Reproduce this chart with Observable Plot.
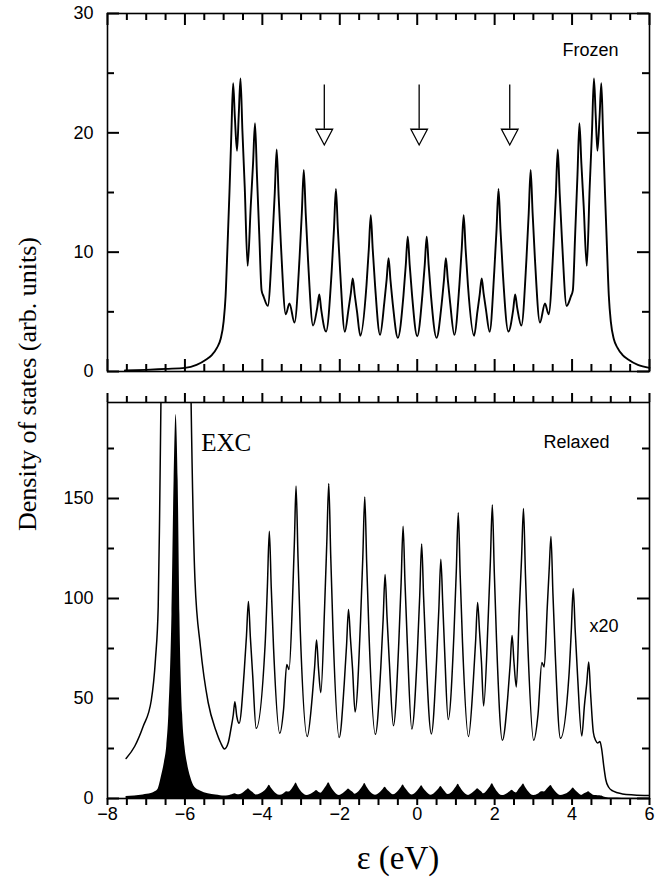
<!DOCTYPE html>
<html>
<head>
<meta charset="utf-8">
<script src="https://cdn.jsdelivr.net/npm/d3@7"></script>
<script src="https://cdn.jsdelivr.net/npm/@observablehq/plot@0.6"></script>
<style>
html, body { margin: 0; padding: 0; background: #fff; }
#wrap { position: relative; width: 672px; height: 884px; overflow: hidden; background: #fff; }
#top, #bottom { position: absolute; left: 0; }
#top { top: 0; }
#bottom { top: 390px; }
.ylab { position: absolute; left: 28px; top: 384px; transform: translate(-50%, -50%) rotate(-90deg);
  white-space: nowrap; font-family: "Liberation Serif"; font-size: 26px; line-height: 1; color: #000; }
.xlab { position: absolute; left: 398px; top: 842px; transform: translateX(-50%);
  white-space: nowrap; font-family: "Liberation Serif"; font-size: 33px; line-height: 1; color: #000; }
</style>
</head>
<body>
<div id="wrap">
  <div id="top"></div>
  <div id="bottom"></div>
  <div class="ylab">Density of states (arb. units)</div>
  <div class="xlab">ε (eV)</div>
</div>
<script>
// ---- tick values ----
const xTicksMajor = [-8, -6, -4, -2, 0, 2, 4, 6];
const xTicksMinor = [-7.5, -7, -6.5, -5.5, -5, -4.5, -3.5, -3, -2.5, -1.5, -1, -0.5, 0.5, 1, 1.5, 2.5, 3, 3.5, 4.5, 5, 5.5];
const frozenTicksMajor = [0, 10, 20, 30];
const frozenTicksMinor = [5, 15, 25];
const relaxedTicksMajor = [0, 50, 100, 150];
const relaxedTicksMinor = [25, 75, 125, 175];

// ---- arrow positions (eV) in the Frozen panel ----
const arrowE = [-2.40, 0.05, 2.39];

// ---- Frozen DOS: [energy (eV), DOS] ----
const frozen = [
  [-7.55, 0.08], [-7.0, 0.14], [-6.5, 0.22], [-6.0, 0.3], [-5.7, 0.55], [-5.45, 1.0], [-5.3, 1.4],
  [-5.17, 2.0], [-5.08, 2.7], [-5.0, 4.2], [-4.95, 6.3], [-4.90, 10.5], [-4.85, 15], [-4.80, 20],
  [-4.755, 24.15], [-4.71, 21.3], [-4.655, 18.5], [-4.61, 21.5], [-4.565, 24.55], [-4.515, 20.15],
  [-4.455, 15.44], [-4.38, 8.85], [-4.30, 13.87], [-4.24, 17.45], [-4.19, 20.8], [-4.14, 16.5],
  [-4.08, 11.5], [-4.02, 6.8], [-3.97, 6.3], [-3.86, 5.5], [-3.74, 11.0], [-3.68, 14.93], [-3.63, 18.6],
  [-3.58, 14.74], [-3.52, 10.6], [-3.395, 4.8], [-3.30, 5.7], [-3.17, 4.1], [-3.04, 9.48], [-2.98, 13.32],
  [-2.93, 16.9], [-2.88, 13.25], [-2.82, 9.33], [-2.69, 3.85], [-2.58, 5.4], [-2.53, 6.45], [-2.48, 5.2],
  [-2.355, 3.35], [-2.21, 8.37], [-2.15, 11.95], [-2.10, 15.3], [-2.05, 11.95], [-1.99, 8.36], [-1.87, 3.33],
  [-1.775, 5.21], [-1.715, 6.55], [-1.665, 7.8], [-1.615, 6.46], [-1.555, 5.02], [-1.47, 3.0],
  [-1.31, 7.24], [-1.25, 10.27], [-1.20, 13.1], [-1.15, 10.29], [-1.09, 7.28], [-0.96, 3.07],
  [-0.85, 5.77], [-0.79, 7.70], [-0.74, 9.5], [-0.69, 7.63], [-0.63, 5.63], [-0.50, 2.82],
  [-0.355, 6.38], [-0.295, 8.93], [-0.245, 11.3], [-0.195, 8.96], [-0.135, 6.46], [0, 2.96],
  [0.135, 6.46], [0.195, 8.96], [0.245, 11.3], [0.295, 8.93], [0.355, 6.38], [0.50, 2.82],
  [0.63, 5.63], [0.69, 7.63], [0.74, 9.5], [0.79, 7.70], [0.85, 5.77], [0.96, 3.07],
  [1.09, 7.28], [1.15, 10.29], [1.20, 13.1], [1.25, 10.27], [1.31, 7.24], [1.47, 3.0],
  [1.555, 5.02], [1.615, 6.46], [1.665, 7.8], [1.715, 6.55], [1.775, 5.21], [1.87, 3.33],
  [1.99, 8.36], [2.05, 11.95], [2.10, 15.3], [2.15, 11.95], [2.21, 8.37], [2.355, 3.35],
  [2.48, 5.2], [2.53, 6.45], [2.58, 5.4], [2.69, 3.85],
  [2.82, 9.33], [2.88, 13.25], [2.93, 16.9], [2.98, 13.32], [3.04, 9.48],
  [3.17, 4.1], [3.30, 5.7], [3.395, 4.8],
  [3.52, 10.6], [3.58, 14.74], [3.63, 18.6], [3.68, 14.93], [3.74, 11.0],
  [3.86, 5.5], [3.97, 6.3], [4.02, 6.8],
  [4.08, 11.5], [4.14, 16.5], [4.19, 20.8], [4.24, 17.45], [4.30, 13.87], [4.38, 8.85],
  [4.455, 15.44], [4.515, 20.15], [4.565, 24.55], [4.61, 21.5], [4.655, 18.5],
  [4.71, 21.3], [4.755, 24.15], [4.80, 20], [4.85, 15], [4.90, 10.5], [4.95, 6.3], [5.0, 4.2],
  [5.08, 2.7], [5.17, 2.0], [5.3, 1.4], [5.45, 1.0], [5.7, 0.55], [6.0, 0.3]
];

// ---- Relaxed DOS: [energy (eV), DOS] (filled curve; the line is x20) ----
const relaxed = [
  [-7.52, 1.0], [-7.3, 1.3], [-7.08, 1.8], [-6.87, 2.45], [-6.76, 3.5], [-6.69, 4.8], [-6.655, 7.0],
  [-6.62, 9.9], [-6.53, 18], [-6.47, 26], [-6.415, 42], [-6.335, 92], [-6.28, 159], [-6.23, 192], [-6.175, 159],
  [-6.13, 92], [-6.06, 42], [-6.0, 26], [-5.94, 18], [-5.85, 10.5], [-5.74, 5.45], [-5.60, 3.8], [-5.40, 2.4],
  [-5.20, 1.7], [-5.08, 1.4], [-4.98, 1.24],
  [-4.88, 1.40], [-4.81, 1.75], [-4.75, 2.10], [-4.71, 2.42], [-4.66, 2.05], [-4.60, 1.88],
  [-4.47, 3.16], [-4.41, 4.07], [-4.36, 4.925], [-4.31, 4.035], [-4.25, 3.085], [-4.16, 1.755],
  [-3.93, 3.825], [-3.87, 5.30], [-3.82, 6.68], [-3.77, 5.265], [-3.71, 3.75], [-3.55, 1.63],
  [-3.45, 2.25], [-3.37, 3.35], [-3.31, 3.225], [-3.22, 5.0], [-3.17, 6.5], [-3.13, 7.81],
  [-3.08, 6.05], [-3.02, 4.18], [-2.84, 1.55],
  [-2.71, 2.56], [-2.65, 3.285], [-2.60, 3.96], [-2.55, 3.25], [-2.49, 2.645],
  [-2.39, 4.845], [-2.335, 6.41], [-2.285, 7.875], [-2.235, 6.095], [-2.175, 4.19], [-2.015, 1.525],
  [-1.885, 2.87], [-1.825, 3.83], [-1.775, 4.725], [-1.725, 4.01], [-1.67, 3.24], [-1.605, 2.165],
  [-1.465, 4.425], [-1.405, 6.035], [-1.355, 7.54], [-1.305, 5.88], [-1.245, 4.10], [-1.08, 1.605],
  [-0.94, 3.285], [-0.88, 4.48], [-0.83, 5.60], [-0.78, 4.54], [-0.72, 3.41], [-0.615, 1.82],
  [-0.475, 3.915], [-0.415, 5.41], [-0.365, 6.805], [-0.315, 5.385], [-0.255, 3.865], [-0.14, 1.735],
  [0.005, 3.68], [0.065, 5.07], [0.115, 6.365], [0.165, 5.035], [0.225, 3.61], [0.365, 1.615],
  [0.50, 3.45], [0.56, 4.76], [0.61, 5.98], [0.66, 4.86], [0.71, 3.655], [0.80, 1.975],
  [0.95, 4.145], [1.01, 5.695], [1.06, 7.145], [1.11, 5.58], [1.17, 3.90], [1.325, 1.55],
  [1.45, 2.955], [1.51, 3.96], [1.56, 4.90], [1.61, 4.175], [1.66, 3.40], [1.715, 2.315],
  [1.83, 4.425], [1.89, 5.935], [1.94, 7.34], [1.99, 5.69], [2.05, 3.925], [2.20, 1.455],
  [2.34, 2.555], [2.40, 3.34], [2.45, 4.075], [2.50, 3.40], [2.56, 2.79],
  [2.635, 4.665], [2.695, 6.0], [2.745, 7.25], [2.795, 5.625], [2.855, 3.89], [3.01, 1.455],
  [3.12, 2.10], [3.22, 3.40], [3.28, 3.29], [3.36, 4.80], [3.41, 5.75], [3.455, 6.55],
  [3.505, 5.135], [3.565, 3.625], [3.70, 1.505],
  [3.92, 3.08], [3.98, 4.20], [4.03, 5.25], [4.08, 4.215], [4.14, 3.11], [4.25, 1.56],
  [4.32, 2.335], [4.38, 2.89], [4.43, 3.41], [4.48, 2.60], [4.55, 1.65], [4.61, 1.45],
  [4.66, 1.39], [4.72, 1.425], [4.77, 1.20], [4.82, 0.80], [4.87, 0.475], [4.95, 0.275],
  [5.05, 0.19], [5.3, 0.115], [5.6, 0.09], [6.0, 0.075]
];
const lineScale = 20; // the "x20" curve

const frozenData = frozen.map(([e, dos]) => ({e, dos}));
const relaxedData = relaxed.map(([e, dos]) => ({e, dos}));

const downTriangle = {
  draw(ctx) { ctx.moveTo(-8.3, 0); ctx.lineTo(8.3, 0); ctx.lineTo(0, 15.7); ctx.closePath(); }
};
const baseStyle = {fontFamily: "Liberation Sans", fontSize: "18px", background: "transparent", color: "black", overflow: "visible"};

// ---- layout ----
const W = 672, ML = 107, MR = 23;
const FW = W - ML - MR;                 // frame width in px
const X0 = -8, X1 = 6;
const pxX = (X1 - X0) / FW;             // eV per px
const MAJ = 12, MIN = 7;                // inward tick lengths (px)
const TICK = {stroke: "black", strokeWidth: 2};

// frame ticks as short rules (same mark type as the arrow shafts)
function frameTicks(yMajor, yMinor, yTop, pxY, topOut, bottomOut) {
  const m = [];
  m.push(Plot.ruleY(yMajor, {y: d => d, x1: X0, x2: X0 + MAJ * pxX, ...TICK}));
  m.push(Plot.ruleY(yMinor, {y: d => d, x1: X0, x2: X0 + MIN * pxX, ...TICK}));
  m.push(Plot.ruleY(yMajor, {y: d => d, x1: X1 - MAJ * pxX, x2: X1, ...TICK}));
  m.push(Plot.ruleY(yMinor, {y: d => d, x1: X1 - MIN * pxX, x2: X1, ...TICK}));
  const tL = topOut || [MAJ, MIN], tD = topOut ? +1 : -1;
  const bL = bottomOut || [MAJ, MIN], bD = bottomOut ? -1 : +1;
  m.push(Plot.ruleX(xTicksMajor, {x: d => d, y1: yTop, y2: yTop + tD * tL[0] * pxY, ...TICK}));
  m.push(Plot.ruleX(xTicksMinor, {x: d => d, y1: yTop, y2: yTop + tD * tL[1] * pxY, ...TICK}));
  m.push(Plot.ruleX(xTicksMajor, {x: d => d, y1: 0, y2: bD * bL[0] * pxY, ...TICK}));
  m.push(Plot.ruleX(xTicksMinor, {x: d => d, y1: 0, y2: bD * bL[1] * pxY, ...TICK}));
  return m;
}

const TH = 390, TMT = 13, TMB = 19, TFH = TH - TMT - TMB;
const topPlot = Plot.plot({
  width: W, height: TH,
  marginLeft: ML, marginRight: MR, marginTop: TMT, marginBottom: TMB,
  x: {domain: [X0, X1], axis: null},
  y: {domain: [0, 30]},
  style: baseStyle,
  marks: [
    ...frameTicks(frozenTicksMajor, frozenTicksMinor, 30, 30 / TFH, null, null),
    Plot.line(frozenData, {x: "e", y: "dos", curve: "monotone-x", stroke: "black", strokeWidth: 1.9}),
    Plot.ruleX(arrowE, {x: d => d, y1: 24.0, y2: 20.3, stroke: "black", strokeWidth: 1.3}),
    Plot.dot(arrowE, {x: d => d, y: 20.3, symbol: downTriangle, fill: "white", stroke: "black", strokeWidth: 1.3}),
    Plot.text(["Frozen"], {x: 3.75, y: 26.95, text: d => d, textAnchor: "start", fontSize: 18, fontFamily: "Liberation Sans", fill: "black"}),
    Plot.axisY({anchor: "left", ticks: frozenTicksMajor, tickSize: 0, tickPadding: 14, label: null}),
    Plot.frame({stroke: "black", strokeWidth: 1.6})
  ]
});
document.getElementById("top").appendChild(topPlot);

const BH = 494, BMT = 12, BMB = 86, BFH = BH - BMT - BMB;
const bottomPlot = Plot.plot({
  width: W, height: BH,
  marginLeft: ML, marginRight: MR, marginTop: BMT, marginBottom: BMB,
  x: {domain: [X0, X1]},
  y: {domain: [0, 198]},
  style: baseStyle,
  marks: [
    ...frameTicks(relaxedTicksMajor, relaxedTicksMinor, 198, 198 / BFH, [9, 6], [7, 7]),
    Plot.areaY(relaxedData, {x: "e", y: "dos", curve: "monotone-x", fill: "black"}),
    Plot.line(relaxedData, {x: "e", y: d => d.dos * lineScale, curve: "monotone-x", stroke: "black", strokeWidth: 1.5, clip: true}),
    Plot.text(["EXC"], {x: -5.58, y: 177.9, text: d => d, textAnchor: "start", fontSize: 25, fontFamily: "Liberation Serif", fill: "black"}),
    Plot.text(["Relaxed"], {x: 3.263, y: 177.9, text: d => d, textAnchor: "start", fontSize: 18, fontFamily: "Liberation Sans", fill: "black"}),
    Plot.text(["x20"], {x: 4.452, y: 86.0, text: d => d, textAnchor: "start", fontSize: 18, fontFamily: "Liberation Sans", fill: "black"}),
    Plot.axisY({anchor: "left", ticks: relaxedTicksMajor, tickSize: 0, tickPadding: 14, label: null}),
    Plot.axisX({anchor: "bottom", ticks: xTicksMajor, tickSize: 0, tickPadding: 9, label: null}),
    Plot.frame({stroke: "black", strokeWidth: 1.6})
  ]
});
document.getElementById("bottom").appendChild(bottomPlot);
</script>
</body>
</html>
